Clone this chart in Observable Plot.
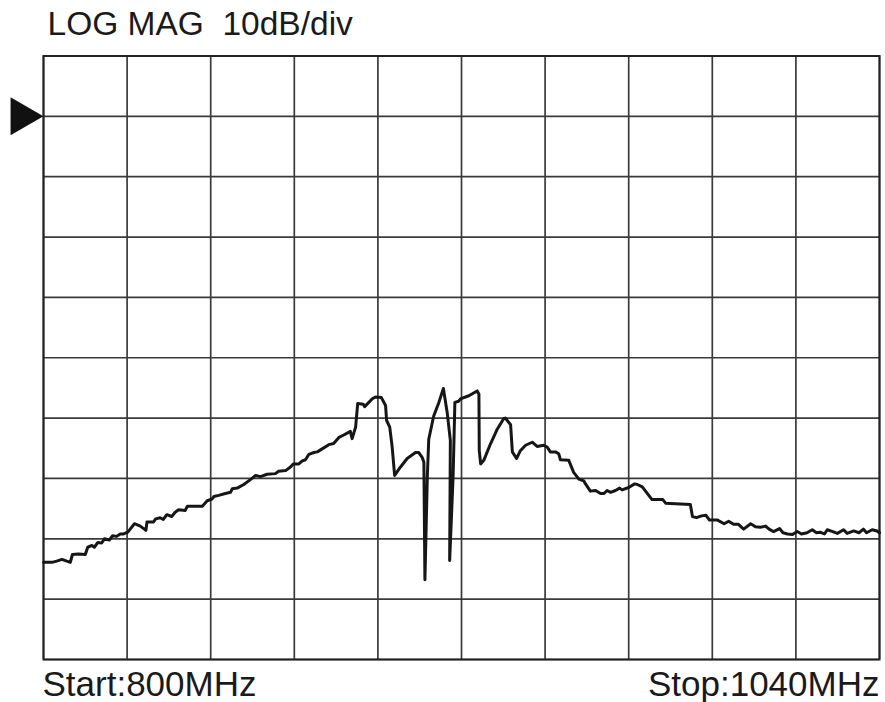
<!DOCTYPE html>
<html>
<head>
<meta charset="utf-8">
<script src="https://cdn.jsdelivr.net/npm/d3@7"></script>
<script src="https://cdn.jsdelivr.net/npm/@observablehq/plot@0.6"></script>
<style>
  html, body { margin: 0; padding: 0; background: #fff; }
  #chart { width: 885px; height: 702px; }
</style>
</head>
<body>
<div id="chart"></div>
<script>
// ---- chart values ----
const titleText = "LOG MAG  10dB/div";
const startLabel = "Start:800MHz";
const stopLabel = "Stop:1040MHz";

const startMHz = 800;
const stopMHz = 1040;
const refLevelDb = 0;          // reference level marker (arrow)
const freqTicks = [800, 824, 848, 872, 896, 920, 944, 968, 992, 1016, 1040];
const dbTicks = [-90, -80, -70, -60, -50, -40, -30, -20, -10, 0, 10];

// trace: frequency (MHz) and magnitude (dB)
const freq = [
  800.0, 802.4, 803.8, 805.3, 806.7, 807.7, 808.3, 810.0, 812.0, 812.7,
  813.9, 814.6, 815.6, 816.7, 817.5, 818.9, 819.8, 821.0, 822.0, 823.0,
  824.2, 824.6, 826.1, 827.8, 829.4, 829.7, 831.6, 832.2, 833.5, 834.4,
  835.4, 836.8, 837.8, 838.8, 840.7, 841.3, 845.6, 847.0, 848.4, 848.9,
  850.3, 852.2, 853.7, 854.2, 855.6, 857.5, 859.4, 860.9, 862.3, 864.2,
  866.6, 867.5, 869.5, 870.9, 871.7, 873.3, 874.3, 875.2, 876.2, 877.6,
  878.6, 880.0, 881.9, 883.3, 884.8, 886.2, 888.1, 888.6, 889.6, 890.2,
  891.8, 892.2, 893.4, 894.4, 895.3, 897.0, 898.2, 898.5, 899.4, 900.1,
  900.8, 902.5, 904.4, 906.8, 907.7, 908.7, 909.2, 909.5, 910.2, 910.6,
  912.0, 913.5, 914.8, 915.9, 916.8, 916.6, 917.6, 918.1, 919.2, 919.7,
  922.1, 924.5, 925.0, 925.1, 925.5, 926.4, 928.3, 930.3, 932.1, 932.6,
  934.1, 934.6, 935.8, 936.9, 938.4, 940.3, 941.7, 943.6, 944.6, 945.5,
  947.0, 947.9, 948.4, 950.8, 952.2, 953.7, 955.1, 955.6, 957.0, 958.5,
  959.9, 960.9, 961.8, 962.8, 964.2, 965.4, 966.1, 968.0, 969.7, 970.5,
  971.9, 974.7, 977.8, 978.6, 985.7, 986.3, 987.5, 988.9, 990.2, 991.2,
  993.5, 995.4, 996.7, 998.1, 999.5, 1001.0, 1003.0, 1004.4, 1005.8, 1007.3,
  1008.3, 1009.6, 1011.3, 1012.3, 1013.6, 1015.0, 1016.4, 1017.6, 1019.2, 1020.7,
  1021.9, 1022.9, 1024.2, 1025.0, 1026.6, 1027.9, 1029.7, 1030.7, 1032.6, 1034.1,
  1035.4, 1036.3, 1037.9, 1039.3, 1040.0
];
const level = [
  -73.9, -73.9, -73.7, -73.4, -73.7, -73.9, -72.6, -72.5, -72.6, -71.4,
  -71.1, -71.4, -70.6, -70.7, -70.0, -70.2, -69.5, -69.6, -69.2, -69.2,
  -68.9, -68.6, -67.5, -67.9, -68.6, -67.2, -67.2, -66.7, -66.5, -66.8,
  -66.0, -66.3, -65.6, -65.2, -65.3, -64.6, -64.6, -63.7, -63.4, -63.0,
  -62.8, -62.5, -62.3, -61.7, -61.6, -61.0, -60.2, -59.5, -59.7, -59.3,
  -59.2, -58.8, -58.7, -58.1, -57.6, -57.6, -57.1, -56.9, -56.0, -55.7,
  -55.6, -55.1, -54.4, -54.2, -53.2, -52.8, -52.2, -53.4, -51.5, -47.6,
  -47.7, -48.1, -47.4, -46.8, -46.5, -46.6, -47.9, -50.4, -51.5, -54.8,
  -59.5, -58.1, -56.7, -55.7, -55.7, -56.5, -57.3, -76.8, -59.5, -53.5,
  -49.7, -47.4, -45.1, -49.1, -53.7, -73.6, -59.5, -47.4, -47.2, -46.8,
  -46.3, -45.5, -46.0, -55.4, -57.6, -57.0, -54.3, -51.8, -50.1, -50.0,
  -51.1, -55.6, -56.7, -55.4, -54.5, -54.0, -54.7, -54.5, -54.8, -55.6,
  -55.6, -55.9, -56.9, -57.0, -59.0, -60.1, -60.4, -60.9, -62.1, -62.0,
  -62.5, -62.5, -62.0, -62.3, -62.0, -61.6, -61.9, -61.5, -60.9, -61.0,
  -61.4, -63.5, -63.5, -64.1, -64.3, -66.3, -66.5, -66.2, -66.1, -66.9,
  -66.9, -67.5, -67.1, -67.6, -67.6, -68.4, -67.5, -68.0, -68.1, -67.9,
  -68.4, -68.8, -68.3, -69.0, -69.2, -69.3, -68.8, -69.2, -69.0, -68.5,
  -69.0, -68.9, -69.2, -68.5, -68.8, -69.1, -68.5, -69.1, -68.7, -69.0,
  -68.4, -69.0, -68.5, -68.7, -69.0
];

const trace = freq.map((f, i) => ({f, db: level[i]}));

const gridColor = "#3a3a3a";
const font = "'Liberation Sans', Arial, Helvetica, sans-serif";

const chart = Plot.plot({
  width: 885,
  height: 702,
  marginLeft: 43,
  marginRight: 6,
  marginTop: 55.5,
  marginBottom: 43,
  style: {fontFamily: font, background: "#fff", color: "#1a1a1a"},
  x: {domain: [startMHz, stopMHz], axis: null},
  y: {domain: [dbTicks[0], dbTicks[dbTicks.length - 1]], axis: null},
  marks: [
    Plot.gridX(freqTicks, {stroke: gridColor, strokeOpacity: 1, strokeWidth: 1.7}),
    Plot.gridY(dbTicks, {stroke: gridColor, strokeOpacity: 1, strokeWidth: 1.7}),
    Plot.frame({stroke: "#222", strokeWidth: 2}),
    Plot.line(trace, {x: "f", y: "db", stroke: "#161616", strokeWidth: 3,
      strokeLinejoin: "round", strokeLinecap: "round"}),
    Plot.dot([refLevelDb], {x: () => startMHz, y: d => d, symbol: "triangle",
      rotate: 90, r: 14.1, fill: "#111", stroke: "none", dx: -22}),
    Plot.text([titleText], {frameAnchor: "top-left", textAnchor: "start",
      lineAnchor: "bottom", dx: 4, dy: -21, fontSize: 33.5, fill: "#1a1a1a"}),
    Plot.text([startLabel], {frameAnchor: "bottom-left", textAnchor: "start",
      lineAnchor: "bottom", dx: -1, dy: 36, fontSize: 35, fill: "#1a1a1a"}),
    Plot.text([stopLabel], {frameAnchor: "bottom-right", textAnchor: "end",
      lineAnchor: "bottom", dx: 0, dy: 36, fontSize: 35, fill: "#1a1a1a"})
  ]
});
document.getElementById("chart").appendChild(chart);
</script>
</body>
</html>
